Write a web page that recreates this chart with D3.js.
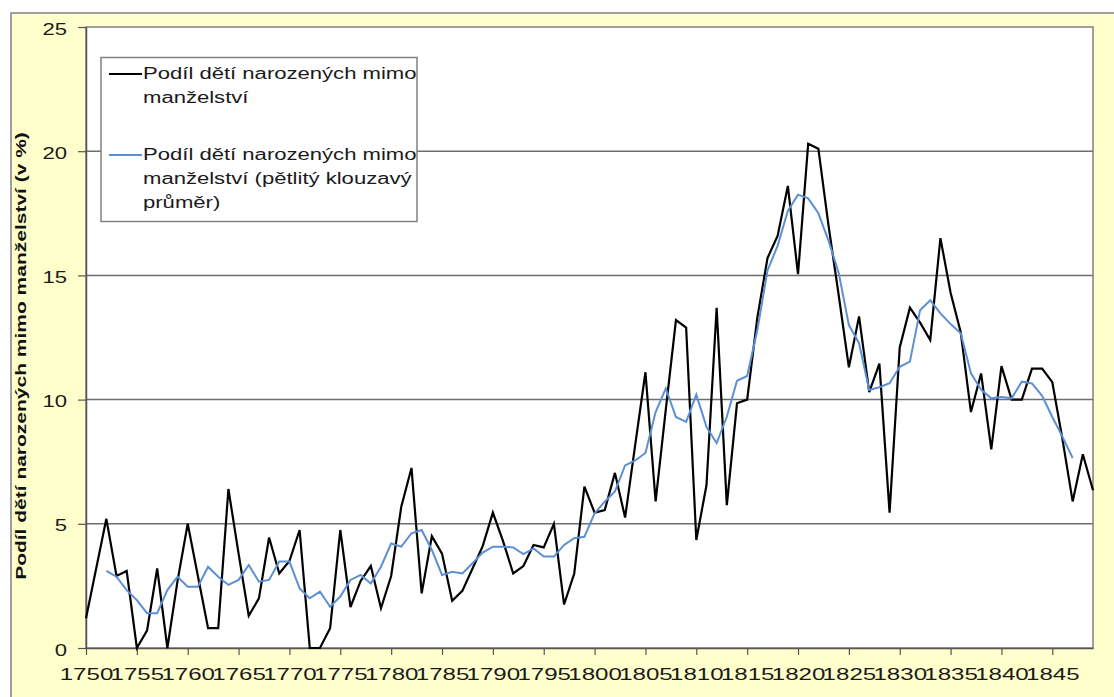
<!DOCTYPE html>
<html><head><meta charset="utf-8">
<script src="https://cdn.jsdelivr.net/npm/d3@7"></script>
<style>html,body{margin:0;padding:0;background:#fff;} svg{display:block;font-family:Arial,"Liberation Sans",sans-serif;}</style>
</head><body><svg id="c" width="1114" height="697"></svg>
<script>
// ---- data ----
const years = d3.range(1750, 1850);
const share = [
  1.2, 3.2, 5.2, 2.9, 3.1, 0.0, 0.7, 3.2, 0.0, 2.7,
  5.0, 2.9, 0.8, 0.8, 6.4, 3.8, 1.3, 2.0, 4.45, 3.0,
  3.5, 4.75, 0.0, 0.0, 0.8, 4.75, 1.65, 2.7, 3.3, 1.6,
  2.9, 5.7, 7.25, 2.2, 4.5, 3.8, 1.9, 2.3, 3.2, 4.1,
  5.45, 4.3, 3.0, 3.3, 4.15, 4.05, 5.0, 1.75, 3.0, 6.5,
  5.45, 5.55, 7.05, 5.25, 8.2, 11.1, 5.9, 9.6, 13.2, 12.9,
  4.35, 6.55, 13.7, 5.75, 9.85, 10.0, 13.3, 15.7, 16.6, 18.6,
  15.05, 20.3, 20.1, 17.0, 14.2, 11.3, 13.35, 10.3, 11.45, 5.45,
  12.1, 13.7, 13.1, 12.4, 16.5, 14.3, 12.7, 9.5, 11.05, 8.0,
  11.35, 10.0, 10.0, 11.25, 11.25, 10.7, 8.4, 5.9, 7.8, 6.35
];
const avgStartYear = 1752;
const avg5 = [
  3.1, 2.87, 2.33, 1.93, 1.4, 1.4, 2.33, 2.87,
  2.47, 2.47, 3.27, 2.87, 2.54, 2.74, 3.34, 2.67, 2.74, 3.48,
  3.48, 2.4, 2.0, 2.27, 1.66, 2.07, 2.74, 2.94, 2.6, 3.27,
  4.21, 4.08, 4.62, 4.75, 3.95, 2.94, 3.07, 3.0, 3.41, 3.84,
  4.08, 4.08, 4.05, 3.78, 4.01, 3.68, 3.68, 4.15, 4.42, 4.48,
  5.42, 5.89, 6.3, 7.35, 7.55, 7.85, 9.5, 10.45, 9.3, 9.1,
  10.2, 8.9, 8.25, 9.31, 10.76, 10.95, 12.8, 15.2, 16.2, 17.6,
  18.25, 18.1, 17.5, 16.4, 15.1, 13.0, 12.27, 10.39, 10.5, 10.66,
  11.32, 11.53, 13.6, 14.0, 13.47, 13.04, 12.67, 11.06, 10.4, 10.05,
  10.1, 10.05, 10.72, 10.65, 10.15, 9.3, 8.5, 7.65
];
const yTicks = [0, 5, 10, 15, 20, 25];
const xTicks = d3.range(1750, 1850, 5);
const legendLabels = [
  ["Podíl dětí narozených mimo", "manželství"],
  ["Podíl dětí narozených mimo", "manželství (pětlitý klouzavý", "průměr)"]
];
const seriesColors = ["#000000", "#5b8fd6"];
const yTitle = "Podíl dětí narozených mimo manželství (v %)";

// ---- drawing ----
const K = 1.38; // horizontal text stretch
const svg = d3.select("#c");
const L = 86, R = 1093, T = 27, B = 648;

svg.append("rect").attr("x", 11).attr("y", 13).attr("width", 1130).attr("height", 720)
  .attr("fill", "#ffffcc").attr("stroke", "#808080").attr("stroke-width", 1.5);

const x = d3.scaleLinear().domain([1750, 1849]).range([L, R]);
const y = d3.scaleLinear().domain([0, 25]).range([B, T]);

svg.append("rect").attr("x", L).attr("y", T).attr("width", R - L).attr("height", B - T)
  .attr("fill", "#fff").attr("stroke", "#808080").attr("stroke-width", 1.5);

svg.append("g").selectAll("line").data(yTicks.filter(d => d > 0 && d < 25)).join("line")
  .attr("x1", L).attr("x2", R).attr("y1", d => y(d)).attr("y2", d => y(d))
  .attr("stroke", "#6e6e6e").attr("stroke-width", 1.5);

const yAxis = svg.append("g").attr("transform", `translate(${L},0)`)
  .call(d3.axisLeft(y).tickValues(yTicks).tickSize(8).tickSizeOuter(0));
yAxis.attr("font-family", null).attr("font-size", 16);
yAxis.select(".domain").attr("stroke", "#555").attr("stroke-width", 1.5);
yAxis.selectAll(".tick line").attr("stroke", "#555").attr("stroke-width", 1.2);
yAxis.selectAll(".tick text").attr("x", -19 / K).attr("dy", "0.32em").attr("y", 2)
  .attr("transform", `scale(${K},1)`).attr("fill", "#1a1a1a");

const KX = 1.46;
const xAxis = svg.append("g").attr("transform", `translate(0,${B})`)
  .call(d3.axisBottom(x).tickValues(xTicks).tickSize(7).tickSizeOuter(0).tickFormat(d3.format("d")));
xAxis.attr("font-family", null).attr("font-size", 16.5);
xAxis.select(".domain").attr("stroke", "#555").attr("stroke-width", 1.5);
xAxis.selectAll(".tick line").attr("stroke", "#555").attr("stroke-width", 1.2);
xAxis.selectAll(".tick text").attr("y", 32).attr("dy", 0)
  .attr("transform", `scale(${KX},1)`).attr("fill", "#1a1a1a");

const line = d3.line().x(d => x(d.year)).y(d => y(d.v));
svg.append("path").datum(years.map((yr, i) => ({year: yr, v: share[i]})))
  .attr("d", line).attr("fill", "none").attr("stroke", seriesColors[0]).attr("stroke-width", 2.2);
svg.append("path").datum(avg5.map((v, i) => ({year: avgStartYear + i, v})))
  .attr("d", line).attr("fill", "none").attr("stroke", seriesColors[1]).attr("stroke-width", 2);

// legend
const lg = svg.append("g");
lg.append("rect").attr("x", 101).attr("y", 57.5).attr("width", 316).attr("height", 164)
  .attr("fill", "#fff").attr("stroke", "#808080").attr("stroke-width", 1.5);
const entryBase = [79, 160];
const lineH = 24;
legendLabels.forEach((lines, i) => {
  const b = entryBase[i];
  lg.append("line").attr("x1", 109).attr("x2", 142).attr("y1", b - 5).attr("y2", b - 5)
    .attr("stroke", seriesColors[i]).attr("stroke-width", 2);
  lines.forEach((t, j) => {
    lg.append("text").attr("transform", `translate(143,${b + j * lineH}) scale(${K},1)`)
      .attr("font-size", 16).attr("fill", "#1a1a1a").text(t);
  });
});

// y title
const tt = svg.append("text").attr("font-size", 15).attr("font-weight", "bold")
  .attr("text-anchor", "middle").attr("fill", "#111").text(yTitle);
const nat = tt.node().getComputedTextLength();
tt.attr("transform", `translate(26,356) rotate(-90) scale(${448 / nat},1)`);
</script></body></html>
